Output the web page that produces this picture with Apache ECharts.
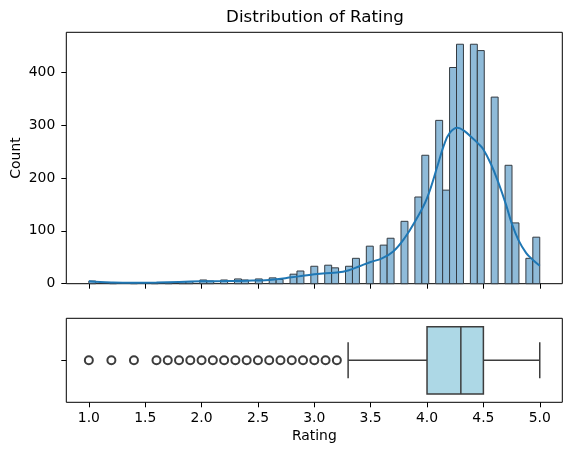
<!DOCTYPE html>
<html>
<head>
<meta charset="utf-8">
<script src="https://cdn.jsdelivr.net/npm/echarts@6/dist/echarts.min.js"></script>
<style>
  html, body { margin:0; padding:0; background:#fff; }
  #chart { width:571px; height:455px; }
</style>
</head>
<body>
<div id="chart"></div>
<script>
	/* histogram: 65 bins from 1.0 to 5.0 */
	var binCount = 65;
	var ratingMin = 1.0;
	var ratingMax = 5.0;
	var binCounts = [
		5,0,0,1,0,0,2,0,0,2,
		0,2,0,4,4,0,7,5,0,7,
		0,9,7,0,9,0,11,8,0,18,
		24,0,33,0,35,30,0,33,48,0,
		71,0,73,86,0,118,0,164,243,0,
		309,177,409,453,0,453,441,0,353,0,
		224,115,0,48,88
	];
	/* kde curve */
	var kdeRating = [1.0,1.1,1.2,1.3,1.4,1.6,1.8,2.0,2.2,2.4,2.6,2.8,2.9,3.0,3.1,3.2,3.3,3.4,3.5,3.6,3.7,3.8,3.9,4.0,4.1,4.15,4.2,4.27,4.33,4.4,4.45,4.5,4.57,4.63,4.7,4.75,4.81,4.88,4.94,5.0];
	var kdeCount = [4.5,3.2,2.4,2.0,2.0,2.4,3.4,4.4,5.0,5.6,7.2,12,15,18,20,21,25,33,41,48,61,86,120,162,228,262,285,295,289,276,266,254,225,193,150,115,83,58,45,34];
	/* boxplot: whisker low, q1, median, q3, whisker high */
	var boxStats = [3.3, 4.0, 4.3, 4.5, 5.0];
	var outlierRatings = [1.0,1.2,1.4,1.6,1.7,1.8,1.9,2.0,2.1,2.2,2.3,2.4,2.5,2.6,2.7,2.8,2.9,3.0,3.1,3.2];
	var ratingTicks = [1.0,1.5,2.0,2.5,3.0,3.5,4.0,4.5,5.0];
	var countTicks = [0,100,200,300,400];

	var FONT = 'DejaVu Sans';
	var LINE = '#3d3d3d';

	var binW = (ratingMax - ratingMin) / binCount;
	var histData = [];
	for (var i = 0; i < binCount; i++) {
		if (binCounts[i] > 0) {
			histData.push([ratingMin + i * binW, ratingMin + (i + 1) * binW, binCounts[i]]);
		}
	}
	var kdeData = [];
	for (var k = 0; k < kdeRating.length; k++) {
		kdeData.push([kdeRating[k], kdeCount[k]]);
	}
	var outlierData = outlierRatings.map(function (v) { return [v, 0]; });

	function renderBar(params, api) {
		var p0 = api.coord([api.value(0), api.value(2)]);
		var p1 = api.coord([api.value(1), 0]);
		return {
			type: 'rect',
			shape: { x: p0[0], y: p0[1], width: p1[0] - p0[0], height: p1[1] - p0[1] },
			style: { fill: '#8fbbd9', stroke: '#343b42', lineWidth: 1 }
		};
	}

	function renderBox(params, api) {
		var lo = api.value(0), q1 = api.value(1), med = api.value(2), q3 = api.value(3), hi = api.value(4);
		var half = 0.4, cap = 0.215;
		var a = api.coord([q1, -half]), b = api.coord([q3, half]);
		var st = { stroke: LINE, lineWidth: 1.5, fill: null };
		function seg(x1, y1, x2, y2) {
			var p = api.coord([x1, y1]), q = api.coord([x2, y2]);
			return { type: 'line', shape: { x1: p[0], y1: p[1], x2: q[0], y2: q[1] }, style: st };
		}
		return {
			type: 'group',
			children: [
				seg(lo, 0, q1, 0),
				seg(q3, 0, hi, 0),
				seg(lo, -cap, lo, cap),
				seg(hi, -cap, hi, cap),
				{ type: 'rect', shape: { x: a[0], y: Math.min(a[1], b[1]), width: b[0] - a[0], height: Math.abs(b[1] - a[1]) },
				  style: { fill: '#add8e6', stroke: LINE, lineWidth: 1.5 } },
				seg(med, -half, med, half)
			]
		};
	}

	var tickStyle = { show: true, length: 5, inside: false, lineStyle: { color: '#000', width: 1 } };
	var labelStyle = { color: '#000', fontFamily: FONT, fontSize: 13.9 };
	var noLine = { show: false, onZero: false };

	var myChart = echarts.init(document.getElementById('chart'));
	var option = {
		animation: false,
		backgroundColor: '#fff',
		title: {
			text: 'Distribution of Rating',
			left: 310,
			top: 4,
			textAlign: 'center',
			textStyle: { fontFamily: FONT, fontSize: 16.7, fontWeight: 'normal', color: '#000' }
		},
		grid: [
			{ left: 66.3, top: 32.3, width: 496, height: 251.4, show: true, borderColor: '#000', borderWidth: 1,
			  backgroundColor: 'transparent', containLabel: false, outerBoundsMode: 'none' },
			{ left: 66.3, top: 318.3, width: 496, height: 84, show: true, borderColor: '#000', borderWidth: 1,
			  backgroundColor: 'transparent', containLabel: false, outerBoundsMode: 'none' }
		],
		xAxis: [
			{
				type: 'value', gridIndex: 0, min: 0.8, max: 5.2,
				axisLine: noLine,
				axisTick: Object.assign({ customValues: ratingTicks }, tickStyle),
				axisLabel: { show: false },
				splitLine: { show: false }
			},
			{
				type: 'value', gridIndex: 1, min: 0.8, max: 5.2,
				name: 'Rating', nameLocation: 'middle', nameGap: 27, nameMoveOverlap: false,
				nameTextStyle: { color: '#000', fontFamily: FONT, fontSize: 13.9 },
				axisLine: noLine,
				axisTick: Object.assign({ customValues: ratingTicks }, tickStyle),
				axisLabel: Object.assign({ customValues: ratingTicks, margin: 9, formatter: function (v) { return v.toFixed(1); } }, labelStyle),
				splitLine: { show: false }
			}
		],
		yAxis: [
			{
				type: 'value', gridIndex: 0, min: 0, max: 475.6,
				name: 'Count', nameLocation: 'middle', nameGap: 43, nameRotate: 90, nameMoveOverlap: false,
				nameTextStyle: { color: '#000', fontFamily: FONT, fontSize: 13.9 },
				axisLine: noLine,
				axisTick: Object.assign({ customValues: countTicks }, tickStyle),
				axisLabel: Object.assign({ customValues: countTicks, margin: 11 }, labelStyle),
				splitLine: { show: false }
			},
			{
				type: 'value', gridIndex: 1, min: -0.5, max: 0.5, inverse: true,
				axisLine: noLine,
				axisTick: Object.assign({ customValues: [0] }, tickStyle),
				axisLabel: { show: false },
				splitLine: { show: false }
			}
		],
		series: [
			{
				name: 'hist', type: 'custom', xAxisIndex: 0, yAxisIndex: 0,
				renderItem: renderBar,
				encode: { x: [0, 1], y: 2 },
				data: histData, z: 2
			},
			{
				name: 'kde', type: 'line', xAxisIndex: 0, yAxisIndex: 0,
				data: kdeData, smooth: 0.4, showSymbol: false,
				lineStyle: { color: '#1f77b4', width: 2 },
				z: 3
			},
			{
				name: 'box', type: 'custom', xAxisIndex: 1, yAxisIndex: 1,
				renderItem: renderBox,
				encode: { x: [0, 1, 2, 3, 4] },
				data: [boxStats], z: 2
			},
			{
				name: 'outliers', type: 'scatter', xAxisIndex: 1, yAxisIndex: 1,
				data: outlierData, symbol: 'circle', symbolSize: 8,
				itemStyle: { color: 'rgba(0,0,0,0)', borderColor: LINE, borderWidth: 2, opacity: 1 },
				z: 3
			}
		]
	};
	myChart.setOption(option);
</script>
</body>
</html>
